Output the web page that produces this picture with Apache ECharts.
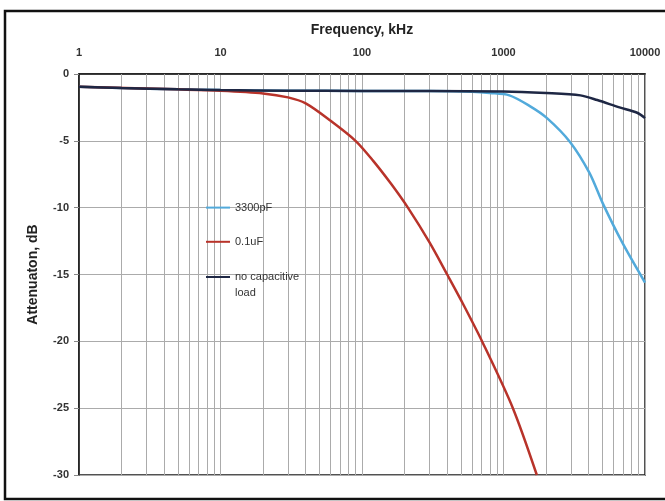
<!DOCTYPE html>
<html>
<head>
<meta charset="utf-8">
<script src="https://cdn.jsdelivr.net/npm/echarts@6/dist/echarts.min.js"></script>
<style>
  html, body { margin: 0; padding: 0; background: #ffffff; }
  #chart { width: 665px; height: 501px; }
</style>
</head>
<body>
<div id="chart"></div>
<script>
// Axis ticks
const xTicks = [1, 10, 100, 1000, 10000];
const yTicks = [0, -5, -10, -15, -20, -25, -30];

// Series: 3300pF
const pf3300Freq = [1, 2, 5, 10, 30, 100, 300, 600, 800, 1100, 1535, 2030, 2960, 4050, 5040, 6900, 10000];
const pf3300Db   = [-0.95, -1.05, -1.15, -1.2, -1.25, -1.27, -1.28, -1.33, -1.42, -1.6, -2.4, -3.3, -5.1, -7.4, -9.7, -12.6, -15.6];

// Series: 0.1uF
const uf01Freq = [1, 5, 10, 20, 30, 40, 60, 90, 120, 160, 211, 300, 400, 500, 713, 1165, 1720];
const uf01Db   = [-0.95, -1.15, -1.25, -1.45, -1.75, -2.2, -3.5, -5.0, -6.5, -8.2, -10, -12.6, -15.0, -16.9, -20.1, -25, -30];

// Series: no capacitive load
const noLoadFreq = [1, 2, 5, 10, 30, 100, 300, 1000, 2000, 3500, 4600, 6600, 8800, 10000];
const noLoadDb   = [-0.95, -1.05, -1.15, -1.2, -1.25, -1.27, -1.28, -1.3, -1.42, -1.6, -1.95, -2.5, -2.9, -3.3];

const seriesNames = ['3300pF', '0.1uF', 'no capacitive load'];
const seriesColors = ['#52aadb', '#b8332a', '#1e2744'];

function pairs(xs, ys) { return xs.map((x, i) => [x, ys[i]]); }

// minor log gridlines 2..9 within each decade
const minorLines = [];
for (let d = 1; d < 10000; d *= 10) {
  for (let k = 2; k <= 9; k++) minorLines.push(k * d);
}

const gridColor = '#ababab';
const chart = echarts.init(document.getElementById('chart'));

const lineSeries = (name, data, color) => ({
  name: name,
  type: 'line',
  data: data,
  smooth: 0.3,
  symbol: 'none',
  showSymbol: false,
  z: 3,
  lineStyle: { color: color, width: 2.5 },
  itemStyle: { color: color }
});

const legendCommon = {
  orient: 'vertical',
  left: 205,
  padding: 0,
  itemWidth: 24, itemHeight: 14,
  itemStyle: { opacity: 0, borderWidth: 0 },
  lineStyle: { width: 2 }
};

chart.setOption({
  backgroundColor: '#ffffff',
  animation: false,
  textStyle: { fontFamily: 'Liberation Sans, Arial, sans-serif' },
  graphic: [{
    type: 'rect',
    shape: { x: 5, y: 11, width: 700, height: 488 },
    style: { fill: 'none', stroke: '#111', lineWidth: 2.5 },
    silent: true
  }],
  grid: {
    left: 79, top: 74, width: 566, height: 401,
    show: true, borderColor: '#1a1a1a', borderWidth: 1.5, backgroundColor: 'transparent'
  },
  legend: [Object.assign({}, legendCommon, {
    data: [seriesNames[0], seriesNames[1]],
    top: 202,
    itemGap: 23,
    textStyle: { fontSize: 11, color: '#333' }
  }), Object.assign({}, legendCommon, {
    data: [seriesNames[2]],
    top: 253,
    formatter: () => '\nno capacitive\nload',
    textStyle: { fontSize: 11, color: '#333', lineHeight: 16 }
  })],
  xAxis: {
    type: 'log',
    logBase: 10,
    min: xTicks[0],
    max: xTicks[xTicks.length - 1],
    position: 'top',
    name: 'Frequency, kHz',
    nameLocation: 'middle',
    nameGap: 37,
    nameTextStyle: { fontSize: 14, fontWeight: 'bold', color: '#222' },
    axisLine: { show: true, lineStyle: { color: '#1a1a1a', width: 1.5 } },
    axisTick: { show: false },
    axisLabel: {
      margin: 16, fontSize: 11, fontWeight: 'bold', color: '#333',
      formatter: v => String(Math.round(v))
    },
    splitLine: { show: true, lineStyle: { color: gridColor, width: 1 } }
  },
  yAxis: {
    type: 'value',
    min: yTicks[yTicks.length - 1],
    max: yTicks[0],
    interval: 5,
    name: 'Attenuaton, dB',
    nameLocation: 'middle',
    nameGap: 39,
    nameTextStyle: { fontSize: 14, fontWeight: 'bold', color: '#222' },
    axisLine: { show: true, lineStyle: { color: '#1a1a1a', width: 1.5 } },
    axisTick: { show: true, length: 5, lineStyle: { color: '#888' } },
    axisLabel: { margin: 10, fontSize: 11, fontWeight: 'bold', color: '#333' },
    splitLine: { show: true, lineStyle: { color: gridColor, width: 1 } }
  },
  series: [
    {
      name: 'minor-grid',
      type: 'line',
      data: [],
      silent: true,
      z: 1,
      markLine: {
        silent: true,
        z: 1,
        symbol: 'none',
        label: { show: false },
        emphasis: { disabled: true },
        lineStyle: { color: gridColor, width: 1, type: 'solid' },
        data: minorLines.map(v => ({ xAxis: v }))
      }
    },
    lineSeries(seriesNames[0], pairs(pf3300Freq, pf3300Db), seriesColors[0]),
    lineSeries(seriesNames[1], pairs(uf01Freq, uf01Db), seriesColors[1]),
    lineSeries(seriesNames[2], pairs(noLoadFreq, noLoadDb), seriesColors[2])
  ]
});
</script>
</body>
</html>
